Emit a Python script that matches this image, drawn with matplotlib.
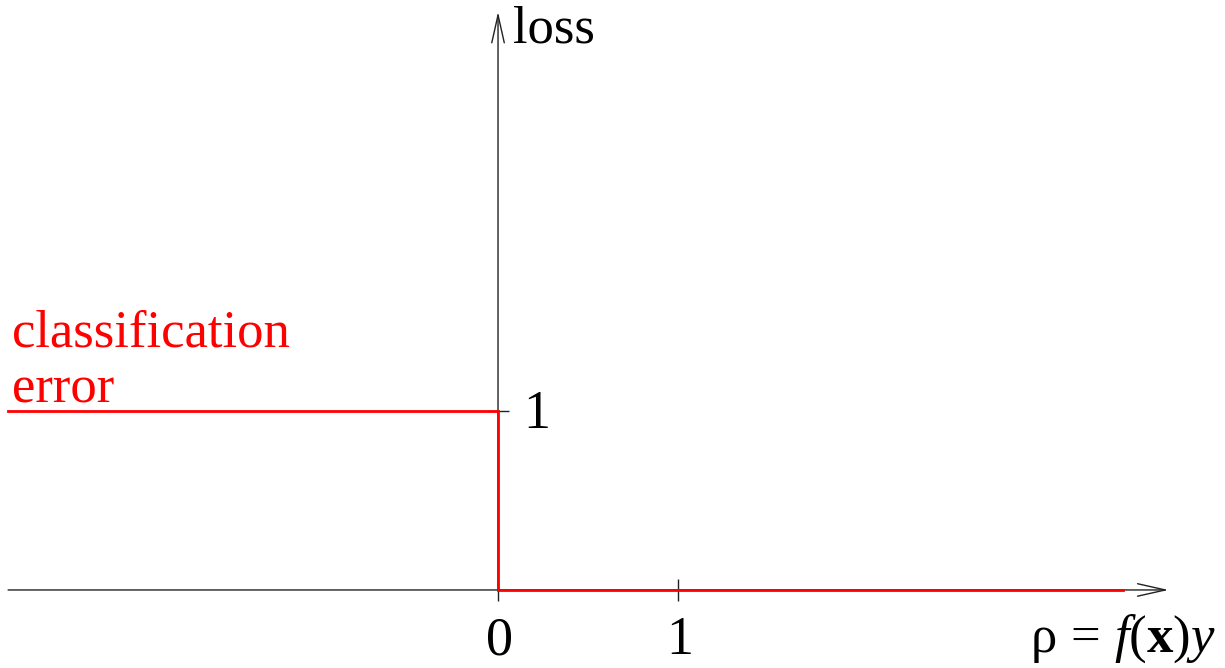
# zero-one loss (classification error) as a step function of the margin
import matplotlib
matplotlib.use("Agg")
import matplotlib.pyplot as plt

plt.rcParams['font.family'] = ['Liberation Serif', 'DejaVu Serif']
plt.rcParams['mathtext.fontset'] = 'custom'
plt.rcParams['mathtext.rm'] = 'Liberation Serif'
plt.rcParams['mathtext.it'] = 'Liberation Serif:italic'
plt.rcParams['mathtext.bf'] = 'Liberation Serif:bold'

# data
step_x = [-2.72, 0, 0, 3.47]
step_y = [1, 1, 0, 0]
x_ticks = [0, 1]
x_tick_labels = ["0", "1"]
y_ticks = [1]
y_tick_labels = ["1"]

fig = plt.figure(figsize=(12.25, 6.68), dpi=100)
ax = fig.add_axes([0, 0, 1, 1])
ax.set_xlim(-2.767, 4.039)
ax.set_ylim(-0.436, 3.296)
ax.axis('off')

axis_col = '#222222'
arrow = dict(arrowstyle='->,head_length=20,head_width=4.5', mutation_scale=1,
             lw=1, color=axis_col, shrinkA=0, shrinkB=0)
# x axis and y axis with open arrowheads
ax.annotate('', xy=(3.725, 0), xytext=(-2.722, 0), arrowprops=arrow)
ax.annotate('', xy=(0, 3.23), xytext=(0, 0), arrowprops=arrow)

# tick marks (crosses on the axes)
ax.plot(x_ticks, [0] * len(x_ticks), ls='none', marker='|', ms=16, mew=1, color=axis_col)
ax.plot([0] * len(y_ticks), y_ticks, ls='none', marker='_', ms=16, mew=1, color=axis_col)

# the step function
ax.plot(step_x, step_y, color='red', lw=2, solid_joinstyle='miter', zorder=3)

fs = 38
for x, lab in zip(x_ticks, x_tick_labels):
    ax.text(x + 0.01, -0.36, lab, fontsize=fs + 1, ha='center', va='baseline')
for y, lab in zip(y_ticks, y_tick_labels):
    ax.text(0.139, y - 0.095, lab, fontsize=fs + 1, ha='left', va='baseline')

ax.text(0.085, 3.056, "loss", fontsize=fs, ha='left', va='baseline')
ax.text(2.955, -0.346, r"$\mathrm{\rho}\,=\,\mathit{f(}\mathbf{x}\mathit{)y}$",
        fontsize=fs, ha='left', va='baseline')
ax.text(-2.7, 1.3575, "classification", fontsize=fs, color='red', ha='left', va='baseline')
ax.text(-2.7, 1.05, "error", fontsize=fs, color='red', ha='left', va='baseline')

fig.savefig("out.png", dpi=100)
